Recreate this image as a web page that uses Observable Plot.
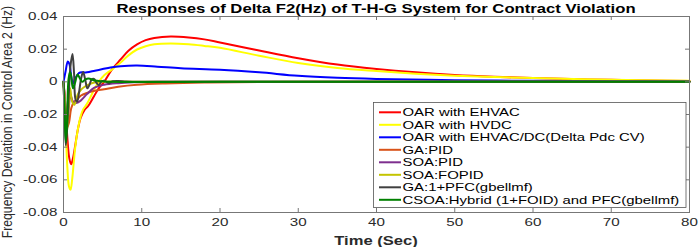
<!DOCTYPE html>
<html><head><meta charset="utf-8">
<script src="https://cdn.jsdelivr.net/npm/d3@7"></script>
<script src="https://cdn.jsdelivr.net/npm/@observablehq/plot@0.6"></script>
<style>
html,body{margin:0;padding:0;background:#fff}
#chart svg{display:block}
</style>
</head><body><div id="chart"></div>
<script>
// ---------- data ----------
const seriesNames = [
  "OAR with EHVAC",
  "OAR with HVDC",
  "OAR with EHVAC/DC(Delta Pdc CV)",
  "GA:PID",
  "SOA:PID",
  "SOA:FOPID",
  "GA:1+PFC(gbellmf)",
  "CSOA:Hybrid (1+FOID) and PFC(gbellmf)"
];
const seriesColors = ["#ff0000","#ffff00","#0000ff","#d95319","#7e2f8e","#c4c400","#404040","#008000"];

const tEhvac = [0,0.3,0.55,0.75,0.98,1.2,1.5,1.8,2.2,2.65,3.2,3.9,4.5,5.2,6.2,7.3,8.3,9.4,10.5,11.6,13.7,16,18,20,25,30,35,40,45,50,55,60,65,70,75,80];
const vEhvac = [0,-0.02,-0.038,-0.047,-0.0505,-0.047,-0.039,-0.03,-0.022,-0.0175,-0.0145,-0.0088,-0.004,0,0.0076,0.0137,0.019,0.0229,0.0255,0.0269,0.0278,0.0272,0.026,0.0241,0.0192,0.0145,0.0106,0.0079,0.0058,0.0042,0.0031,0.0023,0.0017,0.0012,0.0008,0.0005];

const tHvdc = [0,0.25,0.5,0.7,0.9,1.1,1.3,1.5,1.8,2.2,2.5,3.0,3.5,4.0,4.5,5.2,6.2,7.3,8.3,9.4,10.5,11.6,13.7,16,18,20,25,30,35,40,45,50,55,60,70,80];
const vHvdc = [0,-0.025,-0.053,-0.064,-0.066,-0.06,-0.05,-0.04,-0.03,-0.021,-0.017,-0.0135,-0.0088,-0.004,0,0.004,0.0076,0.0118,0.0162,0.0198,0.0218,0.023,0.0235,0.023,0.022,0.0208,0.016,0.0115,0.0085,0.0066,0.005,0.0038,0.003,0.0023,0.0013,0.0007];

const tAcdc = [0,0.25,0.55,0.75,1.0,1.2,1.5,2.0,2.5,3.0,4,5,6,7.3,9.4,12,15,20,25,30,35,40,50,60,70,80];
const vAcdc = [0,0.006,0.0125,0.011,0.003,-0.001,0.002,0.0055,0.0058,0.0058,0.0068,0.0078,0.0088,0.0096,0.01,0.0093,0.0083,0.0074,0.0058,0.0037,0.0025,0.0018,0.001,0.0006,0.0004,0.0002];

const tGaPid = [0,0.2,0.45,0.7,1.0,1.4,1.8,2.2,3,4,5.2,7,9.4,13,18,25,40,80];
const vGaPid = [0,-0.012,-0.028,-0.025,-0.016,-0.012,-0.0105,-0.0085,-0.0068,-0.0055,-0.0045,-0.003,-0.0018,-0.001,-0.0004,-0.0001,0,0];

const tSoaPid = [0,0.2,0.4,0.6,0.9,1.2,1.6,2.2,3.0,3.9,5.2,7,9,12,20,80];
const vSoaPid = [0,-0.012,-0.026,-0.02,-0.008,-0.012,-0.013,-0.0115,-0.0075,-0.0037,-0.0018,-0.0008,-0.0003,0,0,0];

const tSoaFopid = [0,0.2,0.4,0.6,0.85,1.1,1.4,1.8,2.2,2.7,3.5,4.5,10,80];
const vSoaFopid = [0,-0.015,-0.032,-0.02,-0.004,-0.012,-0.014,-0.008,-0.005,-0.003,-0.001,0,0,0];

const tGaPfc = [0,0.15,0.3,0.45,0.7,0.9,1.15,1.35,1.55,1.75,2.0,2.25,2.5,2.75,3.05,3.3,3.6,3.9,4.2,4.5,4.9,5.3,5.8,6.3,7,8,10,20,80];
const vGaPfc = [0,-0.02,-0.039,-0.03,-0.005,0.01,0.017,0.005,-0.011,-0.012,-0.006,0.002,0.006,0.002,-0.004,-0.002,0.0015,0.0018,-0.0005,-0.002,0.0004,0.0006,-0.0008,0.0003,0.0005,0.0002,0,0,0];

const tCsoa = [0,0.15,0.3,0.45,0.65,0.85,1.0,1.2,1.45,1.8,2.1,2.4,2.8,3.2,4,5,6,20,80];
const vCsoa = [0,-0.02,-0.037,-0.025,0.002,0.006,0.003,-0.004,-0.001,0.0045,0.002,0,0.0015,0.002,0.0008,0.0003,0,0,0];

const seriesTimes = [tEhvac,tHvdc,tAcdc,tGaPid,tSoaPid,tSoaFopid,tGaPfc,tCsoa];
const seriesValues = [vEhvac,vHvdc,vAcdc,vGaPid,vSoaPid,vSoaFopid,vGaPfc,vCsoa];

const xTicks = [0,10,20,30,40,50,60,70,80];
const xTickLabels = ["0","10","20","30","40","50","60","70","80"];
const yTicks = [-0.08,-0.06,-0.04,-0.02,0,0.02,0.04];
const yTickLabels = ["-0.08","-0.06","-0.04","-0.02","0","0.02","0.04"];

const titleText = "Responses of Delta F2(Hz) of T-H-G System for Contract Violation";
const xLabelText = "Time (Sec)";
const yLabelText = "Frequency Deviation in Control Area 2 (Hz)";

// ---------- build table ----------
const rows = [];
seriesNames.forEach((name, k) => {
  seriesTimes[k].forEach((t, i) => rows.push({name, t, v: seriesValues[k][i]}));
});

// ---------- layout ----------
const W = 698, H = 247, mL = 63, mR = 9, mT = 16, mB = 35;
const innerW = W - mL - mR, innerH = H - mT - mB;
const tickLen = 4;
const stretch = 1.38;
const font = "'Liberation Sans', Arial, Helvetica, sans-serif";
const axisGray = "#777";

const svg = Plot.plot({
  width: W, height: H,
  marginLeft: mL, marginRight: mR, marginTop: mT, marginBottom: mB,
  style: {fontFamily: font, fontSize: "11px", color: "#2a2a2a", background: "#fff"},
  x: {domain: [0, 80]},
  y: {domain: [-0.08, 0.04]},
  color: {domain: seriesNames, range: seriesColors},
  marks: [
    Plot.line(rows, {x: "t", y: "v", z: "name", stroke: "name", strokeWidth: 2, curve: "catmull-rom"}),
    Plot.frame({stroke: axisGray, strokeWidth: 1}),
    Plot.ruleX(xTicks, {stroke: axisGray, insetTop: innerH - tickLen}),
    Plot.ruleX(xTicks, {stroke: axisGray, insetBottom: innerH - tickLen}),
    Plot.ruleY(yTicks, {stroke: axisGray, insetRight: innerW - tickLen}),
    Plot.ruleY(yTicks, {stroke: axisGray, insetLeft: innerW - tickLen}),
    Plot.axisX({ticks: xTicks, tickSize: 0, tickPadding: 6, label: null,
      tickFormat: d => xTickLabels[xTicks.indexOf(d)]}),
    Plot.axisY({ticks: yTicks, tickSize: 0, tickPadding: 6, label: null,
      tickFormat: d => yTickLabels[yTicks.indexOf(d)]})
  ]
});

// stretch tick labels horizontally (reference is horizontally stretched)
d3.select(svg).selectAll("text").each(function() {
  const el = d3.select(this);
  const tr = el.attr("transform") || "";
  const x = +(el.attr("x") || 0);
  el.attr("transform", `${tr} translate(${x},0) scale(${stretch},1) translate(${-x},0)`);
});

const s = d3.select(svg);
const cx = mL + innerW / 2;

// title
s.append("text")
  .attr("transform", `translate(${cx},12.7) scale(1.39,1)`)
  .attr("text-anchor", "middle")
  .attr("font-family", font).attr("font-weight", "bold").attr("font-size", 12)
  .attr("fill", "#000")
  .text(titleText);

// x label
s.append("text")
  .attr("transform", `translate(${cx},244.5) scale(${stretch},1)`)
  .attr("text-anchor", "middle")
  .attr("font-family", font).attr("font-weight", "bold").attr("font-size", 12)
  .attr("fill", "#2a2a2a")
  .text(xLabelText);

// y label
s.append("text")
  .attr("transform", `translate(12,122) rotate(-90) scale(1,1.25)`)
  .attr("text-anchor", "middle")
  .attr("font-family", font).attr("font-size", 12.2)
  .attr("fill", "#2a2a2a")
  .text(yLabelText);

// legend
const lg = s.append("g").attr("text-anchor", "start");
lg.append("rect")
  .attr("x", 373.5).attr("y", 102.5).attr("width", 312.5).attr("height", 105)
  .attr("fill", "#fff").attr("stroke", "#555").attr("stroke-width", 0.8);
seriesNames.forEach((name, i) => {
  const y = 112.3 + 12.5 * i;
  lg.append("line")
    .attr("x1", 379).attr("x2", 401).attr("y1", y).attr("y2", y)
    .attr("stroke", seriesColors[i]).attr("stroke-width", 2);
  lg.append("text")
    .attr("transform", `translate(402.5,${y}) scale(${stretch},1)`)
    .attr("text-anchor", "start")
    .attr("dy", "0.35em")
    .attr("font-family", font).attr("font-size", 10.8)
    .attr("fill", "#000")
    .text(name);
});

document.getElementById("chart").appendChild(svg);
</script>
</body></html>
